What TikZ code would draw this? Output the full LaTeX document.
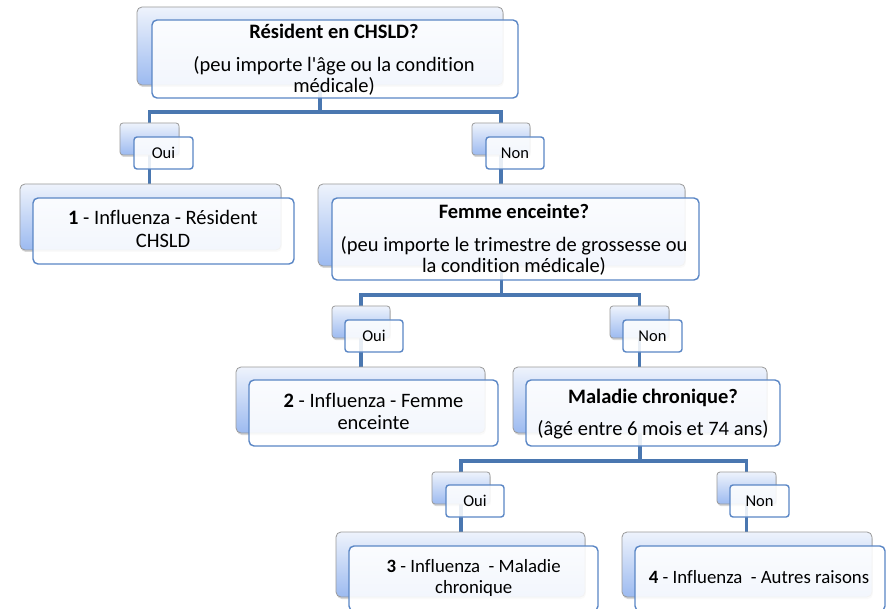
\documentclass[tikz,border=0pt]{standalone}
\usepackage{fontspec}
\setmainfont{Carlito}[Ligatures={NoCommon,TeXOff}]
\usetikzlibrary{shadows}
\pgfdeclarelayer{paper}
\pgfdeclarelayer{lines}
\pgfsetlayers{paper,lines,main}
\definecolor{connC}{HTML}{4A77B0}
\definecolor{frontC}{HTML}{5A86C5}
\definecolor{backC}{HTML}{9A9A9A}
\definecolor{gradT}{HTML}{EEF3FC}
\definecolor{gradB}{HTML}{9CBAF0}
\newcommand{\bigf}{\fontsize{20.5pt}{21.5pt}\selectfont}
\newcommand{\midf}{\fontsize{18.8pt}{20.3pt}\selectfont}
\newcommand{\lblf}{\fontsize{16.5pt}{18pt}\selectfont}
\tikzset{
  conn/.style={draw=connC, line width=3.2pt},
  backbox/.style={rectangle, rounded corners=5pt, draw=backC, line width=0.8pt,
    top color=gradT, bottom color=gradB,
    drop shadow={shadow xshift=0.8pt, shadow yshift=-2pt, opacity=0.3},
    inner sep=0pt, outer sep=0pt},
  frontbox/.style={rectangle, rounded corners=5pt, draw=frontC, line width=1.4pt,
    fill=white, fill opacity=0.88, text opacity=1, inner sep=0pt, outer sep=0pt},
  lblbox/.style={rounded corners=3pt, font=\lblf},
  txt/.style={anchor=base, inner sep=0pt, font=\bigf},
  txtb/.style={txt, font=\bigf\bfseries},
  txts/.style={txt, font=\midf},
}
% #1 name, #2 x1, #3 y1, #4 x2, #5 y2 (back box), #6 fx1, #7 fy1 (front box), #8 extra options, #9 front text
\newcommand{\dualbox}[9]{%
  \pgfmathsetmacro{\myBW}{#4-#2}%
  \pgfmathsetmacro{\myBH}{#5-#3}%
  \node[backbox, #8, minimum width=\myBW pt, minimum height=\myBH pt] (#1-b) at ({(#2+#4)/2},{(#3+#5)/2}) {};
  \node[frontbox, #8, minimum width=\myBW pt, minimum height=\myBH pt] (#1-f) at ({#6+\myBW/2},{#7+\myBH/2}) {#9};
}
\begin{document}
\begin{tikzpicture}[x=1pt, y=-1pt]
\useasboundingbox (0,0) rectangle (888,609);
\begin{pgfonlayer}{paper}
\fill[white] (0,0) rectangle (888,609);
\end{pgfonlayer}

% junction levels
\coordinate (j1) at (320,112);
\coordinate (j2) at (501,295);
\coordinate (j3) at (640,461);

% boxes
\dualbox{root}{137}{7}{503}{85}{152}{20}{}{}
\dualbox{oui1}{120}{123}{179}{155}{134}{137}{lblbox}{Oui}
\dualbox{non1}{472}{123}{530}{155}{486}{137}{lblbox}{Non}
\dualbox{leaf1}{20}{184}{281}{250}{33}{198}{}{}
\dualbox{femme}{318}{184}{685}{266}{332}{198}{}{}
\dualbox{oui2}{332}{306}{390}{338}{345}{320}{lblbox}{Oui}
\dualbox{non2}{610}{306}{669}{338}{623}{320}{lblbox}{Non}
\dualbox{leaf2}{236}{367}{485}{433}{249}{380}{}{}
\dualbox{mal}{513}{367}{767}{433}{526}{380}{}{}
\dualbox{oui3}{432}{472}{490}{504}{446}{485}{lblbox}{Oui}
\dualbox{non3}{717}{472}{776}{504}{730}{485}{lblbox}{Non}
\dualbox{leaf3}{336}{532}{585}{597}{349}{546}{}{}
\dualbox{leaf4}{622}{532}{872}{597}{635}{546}{}{}

% connectors, underneath the boxes
\begin{pgfonlayer}{lines}
\draw[conn] (root-b.south) -- (root-b.south |- j1);
\draw[conn] (oui1-b.north |- leaf1-b.north) -- (oui1-b.north |- j1) -- (non1-b.north |- j1) -- (non1-b.north |- femme-b.north);
\draw[conn] (femme-b.south) -- (femme-b.south |- j2);
\draw[conn] (oui2-b.north |- leaf2-b.north) -- (oui2-b.north |- j2) -- (non2-b.north |- j2) -- (non2-b.north |- mal-b.north);
\draw[conn] (mal-b.south) -- (mal-b.south |- j3);
\draw[conn] (oui3-b.north |- leaf3-b.north) -- (oui3-b.north |- j3) -- (non3-b.north |- j3) -- (non3-b.north |- leaf4-b.north);
\end{pgfonlayer}

% texts
\node[txtb] (t-root1) at (334,39) {Résident en CHSLD?};
\node[txt] (t-root2) at (334,71.7) {(peu importe l'âge ou la condition};
\node[txt] (t-root3) at (334,92.7) {médicale)};

\node[txt] (t-leaf1a) at (163,225) {\textbf{1} - Influenza - Résident};
\node[txt] (t-leaf1b) at (163,247.3) {CHSLD};

\node[txtb] (t-fem1) at (514,219) {Femme enceinte?};
\node[txt] (t-fem2) at (514,251.7) {(peu importe le trimestre de grossesse ou};
\node[txt] (t-fem3) at (514,272.3) {la condition médicale)};

\node[txt] (t-leaf2a) at (373.5,407) {\textbf{2} - Influenza - Femme};
\node[txt] (t-leaf2b) at (373.5,429.3) {enceinte};

\node[txtb] (t-mal1) at (653,403) {Maladie chronique?};
\node[txt] (t-mal2) at (653,435) {(âgé entre 6 mois et 74 ans)};

\node[txts] (t-leaf3a) at (473.7,572.7) {\textbf{3} - Influenza\ \ - Maladie};
\node[txts] (t-leaf3b) at (473.7,593) {chronique};

\node[txts] (t-leaf4) at (759,583) {\textbf{4} - Influenza\ \ - Autres raisons};
\end{tikzpicture}
\end{document}
